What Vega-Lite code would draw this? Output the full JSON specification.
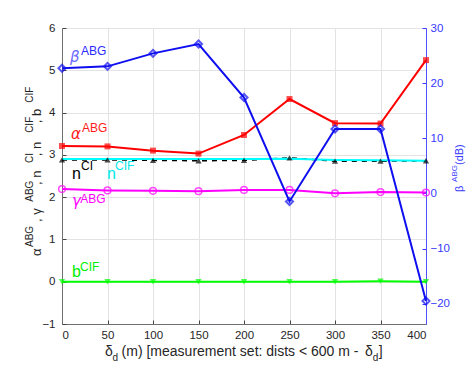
{
  "$schema": "https://vega.github.io/schema/vega-lite/v6.json",
  "width": 364,
  "height": 296,
  "autosize": {"type": "none"},
  "padding": {"left": 62, "top": 28, "right": 45, "bottom": 46},
  "background": "white",
  "config": {
    "view": {"stroke": "#7f7f7f", "strokeWidth": 1},
    "font": "Liberation Sans",
    "axis": {
      "labelFont": "Liberation Sans",
      "labelFontSize": 11.5,
      "labelColor": "#262626",
      "gridColor": "#e3e3e3",
      "gridOpacity": 1,
      "domainColor": "#6f6f6f",
      "tickColor": "#444444"
    },
    "text": {"font": "Liberation Sans"}
  },
  "datasets": {
    "left": [
      {"d": 0, "p": "alpha", "v": 3.21}, {"d": 50, "p": "alpha", "v": 3.2}, {"d": 100, "p": "alpha", "v": 3.1}, {"d": 150, "p": "alpha", "v": 3.03}, {"d": 200, "p": "alpha", "v": 3.47}, {"d": 250, "p": "alpha", "v": 4.32}, {"d": 300, "p": "alpha", "v": 3.75}, {"d": 350, "p": "alpha", "v": 3.74}, {"d": 400, "p": "alpha", "v": 5.24},
      {"d": 0, "p": "nCI", "v": 2.88}, {"d": 50, "p": "nCI", "v": 2.88}, {"d": 100, "p": "nCI", "v": 2.87}, {"d": 150, "p": "nCI", "v": 2.86}, {"d": 200, "p": "nCI", "v": 2.87}, {"d": 250, "p": "nCI", "v": 2.93}, {"d": 300, "p": "nCI", "v": 2.85}, {"d": 350, "p": "nCI", "v": 2.85}, {"d": 400, "p": "nCI", "v": 2.86},
      {"d": 0, "p": "nCIF", "v": 2.9}, {"d": 50, "p": "nCIF", "v": 2.9}, {"d": 100, "p": "nCIF", "v": 2.9}, {"d": 150, "p": "nCIF", "v": 2.9}, {"d": 200, "p": "nCIF", "v": 2.9}, {"d": 250, "p": "nCIF", "v": 2.91}, {"d": 300, "p": "nCIF", "v": 2.88}, {"d": 350, "p": "nCIF", "v": 2.87}, {"d": 400, "p": "nCIF", "v": 2.86},
      {"d": 0, "p": "gamma", "v": 2.19}, {"d": 50, "p": "gamma", "v": 2.16}, {"d": 100, "p": "gamma", "v": 2.15}, {"d": 150, "p": "gamma", "v": 2.14}, {"d": 200, "p": "gamma", "v": 2.17}, {"d": 250, "p": "gamma", "v": 2.17}, {"d": 300, "p": "gamma", "v": 2.09}, {"d": 350, "p": "gamma", "v": 2.12}, {"d": 400, "p": "gamma", "v": 2.11},
      {"d": 0, "p": "b", "v": 0}, {"d": 50, "p": "b", "v": 0}, {"d": 100, "p": "b", "v": 0}, {"d": 150, "p": "b", "v": 0}, {"d": 200, "p": "b", "v": 0}, {"d": 250, "p": "b", "v": 0}, {"d": 300, "p": "b", "v": 0}, {"d": 350, "p": "b", "v": 0.01}, {"d": 400, "p": "b", "v": 0}
    ],
    "beta": [
      {"d": 0, "v": 22.7}, {"d": 50, "v": 23.05}, {"d": 100, "v": 25.4}, {"d": 150, "v": 27.1}, {"d": 200, "v": 17.4}, {"d": 250, "v": -1.45}, {"d": 300, "v": 11.7}, {"d": 350, "v": 11.7}, {"d": 400, "v": -19.5}
    ],
    "labelsGreek": [
      {"t": "β", "x": 8.8, "y": 5.2, "s": "beta"},
      {"t": "α", "x": 9.9, "y": 3.38, "s": "alpha"},
      {"t": "γ", "x": 11, "y": 1.79, "s": "gamma"}
    ],
    "labelsLatin": [
      {"t": "n", "x": 11, "y": 2.43, "s": "nCI"},
      {"t": "n", "x": 49.5, "y": 2.43, "s": "nCIF"},
      {"t": "b", "x": 11, "y": 0.11, "s": "b"}
    ],
    "labelsSup": [
      {"t": "ABG", "x": 20.9, "y": 5.36, "s": "betaS"},
      {"t": "ABG", "x": 22, "y": 3.55, "s": "alpha"},
      {"t": "CI", "x": 20.9, "y": 2.64, "s": "nCI"},
      {"t": "CIF", "x": 58.2, "y": 2.64, "s": "nCIF"},
      {"t": "ABG", "x": 20, "y": 1.86, "s": "gamma"},
      {"t": "CIF", "x": 19.8, "y": 0.26, "s": "b"}
    ],
    "leftTitleMain": [
      {"t": "α", "y": 0.61}, {"t": ", γ", "y": 1.41}, {"t": ", n", "y": 2.29}, {"t": ", n", "y": 2.97}, {"t": ", b", "y": 3.75}
    ],
    "leftTitleSup": [
      {"t": "ABG", "y": 0.82}, {"t": "ABG", "y": 1.89}, {"t": "CI", "y": 2.81}, {"t": "CIF", "y": 3.52}, {"t": "CIF", "y": 4.23}
    ],
    "rightTitleMain": [
      {"t": "β", "y": 2.12}, {"t": "(dB)", "y": 2.76}
    ],
    "rightTitleSup": [
      {"t": "ABG", "y": 2.36}
    ],
    "xTitleMain": [
      {"t": "δ", "x": 47.3}, {"t": "(m) [measurement set: dists < 600 m - ", "x": 65.5}, {"t": "δ", "x": 333}, {"t": "]", "x": 348}
    ],
    "xTitleSub": [
      {"t": "d", "x": 55.5}, {"t": "d", "x": 341.5}
    ]
  },
  "layer": [
    {
      "layer": [
        {
          "data": {"name": "left"},
          "transform": [{"filter": "datum.p === 'gamma'"}],
          "mark": {"type": "line", "color": "#ff00ff", "strokeWidth": 2},
          "encoding": {
            "x": {"field": "d", "type": "quantitative", "scale": {"domain": [0, 400], "nice": false, "zero": false}, "axis": {"title": null, "values": [0, 50, 100, 150, 200, 250, 300, 350, 400], "grid": true, "labelPadding": 9, "tickSize": -4}},
            "y": {"field": "v", "type": "quantitative", "scale": {"domain": [-1, 6], "nice": false, "zero": false}, "axis": {"title": null, "orient": "left", "values": [-1, 0, 1, 2, 3, 4, 5, 6], "grid": true, "labelPadding": 11, "tickSize": -4}}
          }
        },
        {
          "data": {"name": "left"},
          "transform": [{"filter": "datum.p === 'gamma'"}],
          "mark": {"type": "point", "shape": "circle", "filled": false, "size": 45, "strokeWidth": 1.5, "color": "#ff00ff"},
          "encoding": {
            "x": {"field": "d", "type": "quantitative"},
            "y": {"field": "v", "type": "quantitative"}
          }
        },
        {
          "data": {"name": "left"},
          "transform": [{"filter": "datum.p === 'b'"}],
          "mark": {"type": "line", "color": "#00ff00", "strokeWidth": 2},
          "encoding": {
            "x": {"field": "d", "type": "quantitative"},
            "y": {"field": "v", "type": "quantitative"}
          }
        },
        {
          "data": {"name": "left"},
          "transform": [{"filter": "datum.p === 'b'"}],
          "mark": {"type": "point", "shape": "triangle-down", "filled": true, "size": 40, "color": "#00ff00"},
          "encoding": {
            "x": {"field": "d", "type": "quantitative"},
            "y": {"field": "v", "type": "quantitative"}
          }
        },
        {
          "data": {"name": "left"},
          "transform": [{"filter": "datum.p === 'alpha'"}],
          "mark": {"type": "line", "color": "#ff0000", "strokeWidth": 2},
          "encoding": {
            "x": {"field": "d", "type": "quantitative"},
            "y": {"field": "v", "type": "quantitative"}
          }
        },
        {
          "data": {"name": "left"},
          "transform": [{"filter": "datum.p === 'alpha'"}],
          "mark": {"type": "point", "shape": "square", "filled": true, "size": 36, "color": "#ff0000"},
          "encoding": {
            "x": {"field": "d", "type": "quantitative"},
            "y": {"field": "v", "type": "quantitative"}
          }
        },
        {
          "data": {"name": "left"},
          "transform": [{"filter": "datum.p === 'nCI'"}],
          "mark": {"type": "line", "color": "#000000", "strokeWidth": 1.5, "strokeDash": [5, 5]},
          "encoding": {
            "x": {"field": "d", "type": "quantitative"},
            "y": {"field": "v", "type": "quantitative"}
          }
        },
        {
          "data": {"name": "left"},
          "transform": [{"filter": "datum.p === 'nCIF'"}],
          "mark": {"type": "line", "color": "#00ffff", "strokeWidth": 2},
          "encoding": {
            "x": {"field": "d", "type": "quantitative"},
            "y": {"field": "v", "type": "quantitative"}
          }
        },
        {
          "data": {"name": "left"},
          "transform": [{"filter": "datum.p === 'nCI'"}],
          "mark": {"type": "point", "shape": "triangle-up", "filled": true, "size": 38, "color": "#000000"},
          "encoding": {
            "x": {"field": "d", "type": "quantitative"},
            "y": {"field": "v", "type": "quantitative"}
          }
        },
        {
          "data": {"name": "labelsGreek"},
          "mark": {"type": "text", "align": "left", "baseline": "alphabetic", "fontSize": 15, "fontStyle": "italic", "font": "DejaVu Sans"},
          "encoding": {
            "x": {"field": "x", "type": "quantitative"},
            "y": {"field": "y", "type": "quantitative"},
            "text": {"field": "t"},
            "color": {"field": "s", "type": "nominal", "legend": null, "scale": {"domain": ["beta", "betaS", "alpha", "nCI", "nCIF", "gamma", "b"], "range": ["#6b6bff", "#2b2bff", "#ff1a1a", "#000000", "#00e8e8", "#ff00ff", "#00ee00"]}}
          }
        },
        {
          "data": {"name": "labelsLatin"},
          "mark": {"type": "text", "align": "left", "baseline": "alphabetic", "fontSize": 16},
          "encoding": {
            "x": {"field": "x", "type": "quantitative"},
            "y": {"field": "y", "type": "quantitative"},
            "text": {"field": "t"},
            "color": {"field": "s", "type": "nominal", "legend": null}
          }
        },
        {
          "data": {"name": "labelsSup"},
          "mark": {"type": "text", "align": "left", "baseline": "alphabetic", "fontSize": 12},
          "encoding": {
            "x": {"field": "x", "type": "quantitative"},
            "y": {"field": "y", "type": "quantitative"},
            "text": {"field": "t"},
            "color": {"field": "s", "type": "nominal", "legend": null}
          }
        },
        {
          "data": {"name": "leftTitleMain"},
          "mark": {"type": "text", "align": "left", "baseline": "alphabetic", "angle": 270, "fontSize": 13, "dy": -21, "color": "#262626"},
          "encoding": {
            "x": {"datum": 0, "type": "quantitative"},
            "y": {"field": "y", "type": "quantitative"},
            "text": {"field": "t"}
          }
        },
        {
          "data": {"name": "leftTitleSup"},
          "mark": {"type": "text", "align": "left", "baseline": "alphabetic", "angle": 270, "fontSize": 10, "dy": -29, "color": "#262626"},
          "encoding": {
            "x": {"datum": 0, "type": "quantitative"},
            "y": {"field": "y", "type": "quantitative"},
            "text": {"field": "t"}
          }
        },
        {
          "data": {"name": "rightTitleMain"},
          "mark": {"type": "text", "align": "left", "baseline": "alphabetic", "angle": 270, "fontSize": 11, "dy": 37, "color": "#3838ff"},
          "encoding": {
            "x": {"datum": 400, "type": "quantitative"},
            "y": {"field": "y", "type": "quantitative"},
            "text": {"field": "t"}
          }
        },
        {
          "data": {"name": "rightTitleSup"},
          "mark": {"type": "text", "align": "left", "baseline": "alphabetic", "angle": 270, "fontSize": 8, "dy": 31, "color": "#3838ff"},
          "encoding": {
            "x": {"datum": 400, "type": "quantitative"},
            "y": {"field": "y", "type": "quantitative"},
            "text": {"field": "t"}
          }
        },
        {
          "data": {"name": "xTitleMain"},
          "mark": {"type": "text", "align": "left", "baseline": "alphabetic", "fontSize": 14, "dy": 32, "color": "#262626"},
          "encoding": {
            "x": {"field": "x", "type": "quantitative"},
            "y": {"datum": -1, "type": "quantitative"},
            "text": {"field": "t"}
          }
        },
        {
          "data": {"name": "xTitleSub"},
          "mark": {"type": "text", "align": "left", "baseline": "alphabetic", "fontSize": 10, "dy": 37, "color": "#262626"},
          "encoding": {
            "x": {"field": "x", "type": "quantitative"},
            "y": {"datum": -1, "type": "quantitative"},
            "text": {"field": "t"}
          }
        }
      ]
    },
    {
      "layer": [
        {
          "data": {"name": "beta"},
          "mark": {"type": "line", "color": "#0e0ef0", "strokeWidth": 2},
          "encoding": {
            "x": {"field": "d", "type": "quantitative"},
            "y": {"field": "v", "type": "quantitative", "scale": {"domain": [-23.66, 30], "nice": false, "zero": false}, "axis": {"title": null, "orient": "right", "values": [-20, -10, 0, 10, 20, 30], "grid": false, "domainColor": "#5050ff", "tickColor": "#3838ff", "labelColor": "#3838ff", "labelPadding": 8, "tickSize": -4}}
          }
        },
        {
          "data": {"name": "beta"},
          "mark": {"type": "point", "shape": "diamond", "filled": false, "size": 50, "strokeWidth": 2, "color": "#0e0ef0"},
          "encoding": {
            "x": {"field": "d", "type": "quantitative"},
            "y": {"field": "v", "type": "quantitative"}
          }
        }
      ]
    }
  ],
  "resolve": {"scale": {"y": "independent"}, "axis": {"y": "independent"}}
}
